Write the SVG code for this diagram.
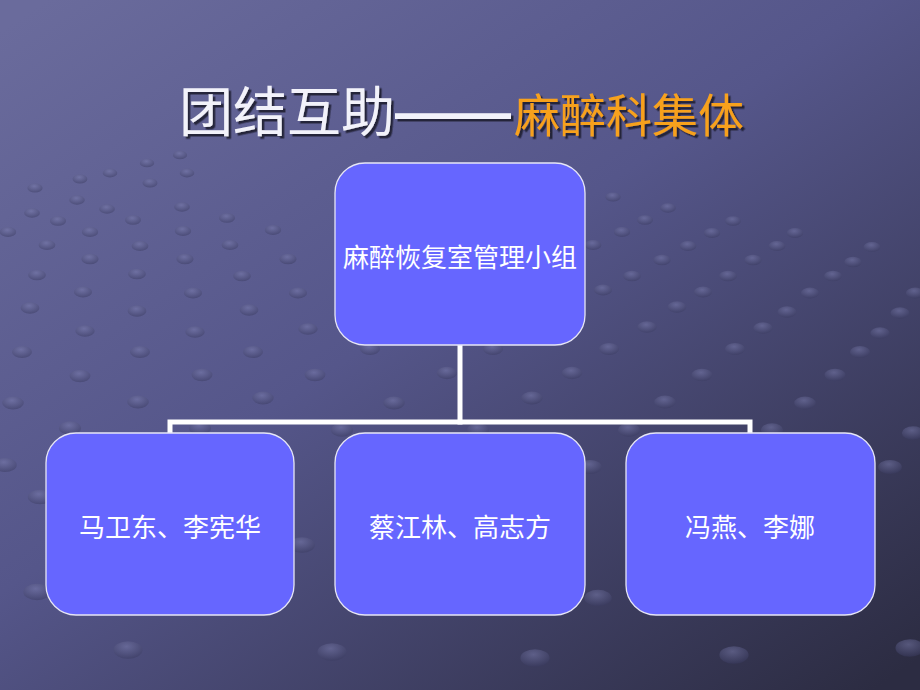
<svg xmlns="http://www.w3.org/2000/svg" xmlns:xlink="http://www.w3.org/1999/xlink" width="920" height="690" viewBox="0 0 920 690">
  <defs>
    <linearGradient id="bg" x1="0.05" y1="0" x2="0.95" y2="1">
      <stop offset="0" stop-color="#6a6b9c"/>
      <stop offset="0.45" stop-color="#55568a"/>
      <stop offset="1" stop-color="#2c2c42"/>
    </linearGradient>
    <radialGradient id="dg" cx="0.45" cy="0.3" r="0.7">
      <stop offset="0" stop-color="#7f81b2" stop-opacity="0.5"/>
      <stop offset="1" stop-color="#3a3b60" stop-opacity="0.5"/>
    </radialGradient>
    <ellipse id="d" cx="0" cy="0" rx="1" ry="0.6" fill="url(#dg)"/>
    <filter id="sh" x="-10%" y="-20%" width="130%" height="150%">
      <feDropShadow dx="2.5" dy="2.5" stdDeviation="0.6" flood-color="#1e1e30" flood-opacity="0.9"/>
    </filter>
  </defs>
  <style>
    .node rect { fill: #6666ff; stroke: #e6e6f6; stroke-width: 1.3; }
    .node text { fill: #ffffff; font-family: "Noto Sans CJK SC", "Noto Sans", sans-serif; font-size: 26px; text-anchor: middle; dominant-baseline: central; }
    .conn { stroke: #ffffff; stroke-width: 5; fill: none; stroke-linecap: square; }
    .title { font-family: "Noto Sans CJK SC", "Noto Sans", sans-serif; }
    .dash { font-family: "Liberation Sans", sans-serif; font-weight: bold; font-size: 58px; }
  </style>

  <rect x="0" y="0" width="920" height="690" fill="url(#bg)"/>

  <g id="background-dots">
    <use xlink:href="#d" transform="translate(35 188) scale(7.6)"/>
    <use xlink:href="#d" transform="translate(80 179) scale(7.4)"/>
    <use xlink:href="#d" transform="translate(110 173) scale(7.3)"/>
    <use xlink:href="#d" transform="translate(147 163) scale(7.2)"/>
    <use xlink:href="#d" transform="translate(180 155) scale(7.1)"/>
    <use xlink:href="#d" transform="translate(32 213) scale(7.9)"/>
    <use xlink:href="#d" transform="translate(58 221) scale(8.1)"/>
    <use xlink:href="#d" transform="translate(77 200) scale(7.8)"/>
    <use xlink:href="#d" transform="translate(107 209) scale(7.9)"/>
    <use xlink:href="#d" transform="translate(133 220) scale(8)"/>
    <use xlink:href="#d" transform="translate(150 183) scale(7.5)"/>
    <use xlink:href="#d" transform="translate(182 207) scale(7.9)"/>
    <use xlink:href="#d" transform="translate(187 173) scale(7.3)"/>
    <use xlink:href="#d" transform="translate(8 232) scale(8.2)"/>
    <use xlink:href="#d" transform="translate(47 245) scale(8.4)"/>
    <use xlink:href="#d" transform="translate(90 232) scale(8.2)"/>
    <use xlink:href="#d" transform="translate(140 246) scale(8.4)"/>
    <use xlink:href="#d" transform="translate(183 231) scale(8.2)"/>
    <use xlink:href="#d" transform="translate(230 245) scale(8.4)"/>
    <use xlink:href="#d" transform="translate(227 218) scale(8)"/>
    <use xlink:href="#d" transform="translate(273 230) scale(8.2)"/>
    <use xlink:href="#d" transform="translate(37 275) scale(8.9)"/>
    <use xlink:href="#d" transform="translate(90 259) scale(8.6)"/>
    <use xlink:href="#d" transform="translate(137 274) scale(8.9)"/>
    <use xlink:href="#d" transform="translate(185 259) scale(8.6)"/>
    <use xlink:href="#d" transform="translate(242 276) scale(8.9)"/>
    <use xlink:href="#d" transform="translate(288 259) scale(8.6)"/>
    <use xlink:href="#d" transform="translate(30 308) scale(9.4)"/>
    <use xlink:href="#d" transform="translate(83 292) scale(9.1)"/>
    <use xlink:href="#d" transform="translate(137 311) scale(9.4)"/>
    <use xlink:href="#d" transform="translate(193 293) scale(9.1)"/>
    <use xlink:href="#d" transform="translate(249 310) scale(9.4)"/>
    <use xlink:href="#d" transform="translate(298 293) scale(9.1)"/>
    <use xlink:href="#d" transform="translate(22 352) scale(10)"/>
    <use xlink:href="#d" transform="translate(85 331) scale(9.7)"/>
    <use xlink:href="#d" transform="translate(140 352) scale(10)"/>
    <use xlink:href="#d" transform="translate(195 332) scale(9.7)"/>
    <use xlink:href="#d" transform="translate(253 352) scale(10)"/>
    <use xlink:href="#d" transform="translate(308 329) scale(9.7)"/>
    <use xlink:href="#d" transform="translate(80 376) scale(10.4)"/>
    <use xlink:href="#d" transform="translate(202 375) scale(10.4)"/>
    <use xlink:href="#d" transform="translate(315 375) scale(10.4)"/>
    <use xlink:href="#d" transform="translate(13 403) scale(10.8)"/>
    <use xlink:href="#d" transform="translate(138 402) scale(10.8)"/>
    <use xlink:href="#d" transform="translate(263 398) scale(10.7)"/>
    <use xlink:href="#d" transform="translate(70 428) scale(11.2)"/>
    <use xlink:href="#d" transform="translate(200 428) scale(11.2)"/>
    <use xlink:href="#d" transform="translate(370 349) scale(10)"/>
    <use xlink:href="#d" transform="translate(493 349) scale(10)"/>
    <use xlink:href="#d" transform="translate(609 349) scale(10)"/>
    <use xlink:href="#d" transform="translate(735 349) scale(10)"/>
    <use xlink:href="#d" transform="translate(447 373) scale(10.3)"/>
    <use xlink:href="#d" transform="translate(572 373) scale(10.3)"/>
    <use xlink:href="#d" transform="translate(702 375) scale(10.4)"/>
    <use xlink:href="#d" transform="translate(394 403) scale(10.8)"/>
    <use xlink:href="#d" transform="translate(532 398) scale(10.7)"/>
    <use xlink:href="#d" transform="translate(665 402) scale(10.8)"/>
    <use xlink:href="#d" transform="translate(805 403) scale(10.8)"/>
    <use xlink:href="#d" transform="translate(342 430) scale(11.2)"/>
    <use xlink:href="#d" transform="translate(478 430) scale(11.2)"/>
    <use xlink:href="#d" transform="translate(629 430) scale(11.2)"/>
    <use xlink:href="#d" transform="translate(772 430) scale(11.2)"/>
    <use xlink:href="#d" transform="translate(913 433) scale(11.2)"/>
    <use xlink:href="#d" transform="translate(613 197) scale(7.7)"/>
    <use xlink:href="#d" transform="translate(668 208) scale(7.9)"/>
    <use xlink:href="#d" transform="translate(733 221) scale(8)"/>
    <use xlink:href="#d" transform="translate(795 233) scale(8.2)"/>
    <use xlink:href="#d" transform="translate(872 247) scale(8.5)"/>
    <use xlink:href="#d" transform="translate(645 220) scale(8)"/>
    <use xlink:href="#d" transform="translate(622 232) scale(8.2)"/>
    <use xlink:href="#d" transform="translate(712 233) scale(8.2)"/>
    <use xlink:href="#d" transform="translate(777 246) scale(8.4)"/>
    <use xlink:href="#d" transform="translate(853 262) scale(8.7)"/>
    <use xlink:href="#d" transform="translate(915 293) scale(9.1)"/>
    <use xlink:href="#d" transform="translate(593 245) scale(8.4)"/>
    <use xlink:href="#d" transform="translate(688 246) scale(8.4)"/>
    <use xlink:href="#d" transform="translate(662 260) scale(8.7)"/>
    <use xlink:href="#d" transform="translate(753 260) scale(8.7)"/>
    <use xlink:href="#d" transform="translate(833 276) scale(8.9)"/>
    <use xlink:href="#d" transform="translate(900 313) scale(9.5)"/>
    <use xlink:href="#d" transform="translate(632 276) scale(8.9)"/>
    <use xlink:href="#d" transform="translate(728 276) scale(8.9)"/>
    <use xlink:href="#d" transform="translate(810 293) scale(9.1)"/>
    <use xlink:href="#d" transform="translate(880 333) scale(9.7)"/>
    <use xlink:href="#d" transform="translate(603 290) scale(9.1)"/>
    <use xlink:href="#d" transform="translate(703 292) scale(9.1)"/>
    <use xlink:href="#d" transform="translate(787 312) scale(9.5)"/>
    <use xlink:href="#d" transform="translate(860 352) scale(10)"/>
    <use xlink:href="#d" transform="translate(677 307) scale(9.4)"/>
    <use xlink:href="#d" transform="translate(763 328) scale(9.7)"/>
    <use xlink:href="#d" transform="translate(835 375) scale(10.4)"/>
    <use xlink:href="#d" transform="translate(647 327) scale(9.7)"/>
    <use xlink:href="#d" transform="translate(5 465) scale(11.7)"/>
    <use xlink:href="#d" transform="translate(40 497) scale(12.2)"/>
    <use xlink:href="#d" transform="translate(302 545) scale(12.9)"/>
    <use xlink:href="#d" transform="translate(37 592) scale(13.6)"/>
    <use xlink:href="#d" transform="translate(590 467) scale(11.8)"/>
    <use xlink:href="#d" transform="translate(598 598) scale(13.7)"/>
    <use xlink:href="#d" transform="translate(890 467) scale(11.8)"/>
    <use xlink:href="#d" transform="translate(128 650) scale(14.5)"/>
    <use xlink:href="#d" transform="translate(332 652) scale(14.5)"/>
    <use xlink:href="#d" transform="translate(535 658) scale(14.6)"/>
    <use xlink:href="#d" transform="translate(734 655) scale(14.6)"/>
    <use xlink:href="#d" transform="translate(910 648) scale(14.5)"/>
  </g>

  <g id="title" class="title" filter="url(#sh)">
    <text x="179" y="132" font-size="54" fill="#f2f2fa">团结互助<tspan class="dash">——</tspan></text>
    <text x="514" y="132" font-size="46" fill="#f7a11c">麻醉科集体</text>
  </g>

  <g id="connectors">
    <line class="conn" x1="460" y1="345" x2="460" y2="422"/>
    <polyline class="conn" points="170,432 170,422 750,422 750,432"/>
  </g>

  <g id="node-top" class="node">
    <rect x="335" y="163" width="250" height="182" rx="30" ry="30"/>
    <text x="460" y="255">麻醉恢复室管理小组</text>
  </g>
  <g id="node-left" class="node">
    <rect x="46" y="433" width="248" height="182" rx="30" ry="30"/>
    <text x="170" y="525">马卫东、李宪华</text>
  </g>
  <g id="node-middle" class="node">
    <rect x="335" y="433" width="250" height="182" rx="30" ry="30"/>
    <text x="460" y="525">蔡江林、高志方</text>
  </g>
  <g id="node-right" class="node">
    <rect x="626" y="433" width="249" height="182" rx="30" ry="30"/>
    <text x="750" y="525">冯燕、李娜</text>
  </g>
</svg>
